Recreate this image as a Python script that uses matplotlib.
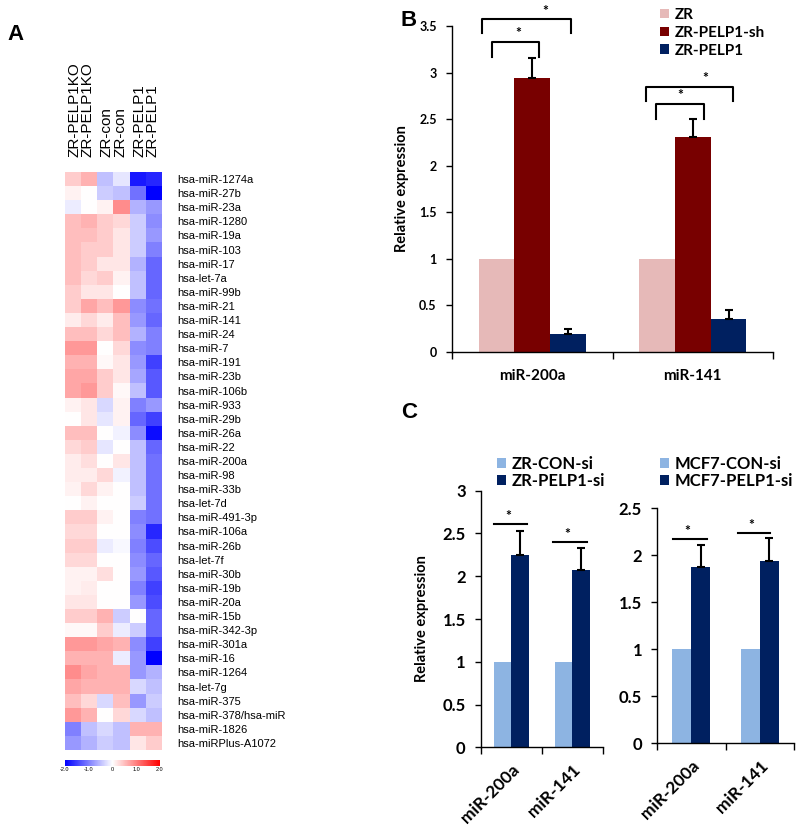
import numpy as np
import matplotlib
matplotlib.use('Agg')
import matplotlib.pyplot as plt
from matplotlib.colors import LinearSegmentedColormap

plt.rcParams['font.family'] = ['Liberation Sans', 'DejaVu Sans']
BOLD_FONT = ['Lato', 'DejaVu Sans']

# ---- panel A: heatmap data ----
groups = ['ZR-PELP1KO', 'ZR-con', 'ZR-PELP1']
mirnas = ['hsa-miR-1274a', 'hsa-miR-27b', 'hsa-miR-23a', 'hsa-miR-1280', 'hsa-miR-19a',
          'hsa-miR-103', 'hsa-miR-17', 'hsa-let-7a', 'hsa-miR-99b', 'hsa-miR-21',
          'hsa-miR-141', 'hsa-miR-24', 'hsa-miR-7', 'hsa-miR-191', 'hsa-miR-23b',
          'hsa-miR-106b', 'hsa-miR-933', 'hsa-miR-29b', 'hsa-miR-26a', 'hsa-miR-22',
          'hsa-miR-200a', 'hsa-miR-98', 'hsa-miR-33b', 'hsa-let-7d', 'hsa-miR-491-3p',
          'hsa-miR-106a', 'hsa-miR-26b', 'hsa-let-7f', 'hsa-miR-30b', 'hsa-miR-19b',
          'hsa-miR-20a', 'hsa-miR-15b', 'hsa-miR-342-3p', 'hsa-miR-301a', 'hsa-miR-16',
          'hsa-miR-1264', 'hsa-let-7g', 'hsa-miR-375', 'hsa-miR-378/hsa-miR', 'hsa-miR-1826',
          'hsa-miRPlus-A1072']
heat = np.array([
    [0.4, 0.6, -0.5, -0.2, -1.8, -1.7],
    [0.1, 0.0, -0.4, -0.5, -1.1, -2.0],
    [-0.15, 0.0, 0.1, 0.9, -0.6, -0.8],
    [0.5, 0.6, 0.4, 0.3, -0.4, -0.9],
    [0.5, 0.5, 0.4, 0.2, -0.4, -0.8],
    [0.5, 0.4, 0.4, 0.2, -0.4, -1.0],
    [0.5, 0.4, 0.2, 0.2, -0.6, -1.2],
    [0.5, 0.3, 0.4, 0.1, -0.5, -1.2],
    [0.4, 0.2, 0.2, 0.0, -0.5, -1.2],
    [0.4, 0.7, 0.5, 0.8, -0.9, -1.1],
    [0.15, 0.3, 0.15, 0.5, -0.8, -1.2],
    [0.5, 0.5, 0.3, 0.5, -0.6, -1.0],
    [0.8, 0.8, 0.0, 0.3, -0.9, -1.0],
    [0.6, 0.6, 0.05, 0.2, -0.8, -1.5],
    [0.7, 0.7, 0.4, 0.2, -0.7, -1.3],
    [0.7, 0.8, 0.4, 0.05, -0.5, -1.3],
    [0.1, 0.2, -0.3, 0.1, -1.0, -0.8],
    [0.0, 0.2, -0.2, 0.1, -1.2, -1.5],
    [0.5, 0.5, 0.0, -0.1, -0.9, -1.9],
    [0.3, 0.4, -0.2, 0.0, -0.5, -1.2],
    [0.15, 0.25, 0.0, 0.2, -0.5, -1.1],
    [0.15, 0.15, 0.3, -0.1, -0.5, -1.1],
    [0.1, 0.3, 0.1, 0.0, -0.5, -1.1],
    [0.0, 0.1, 0.0, 0.0, -0.4, -1.1],
    [0.4, 0.4, 0.1, 0.0, -1.0, -1.1],
    [0.3, 0.3, 0.0, 0.0, -0.9, -1.7],
    [0.4, 0.4, -0.15, -0.05, -1.0, -1.4],
    [0.3, 0.3, 0.0, 0.0, -0.9, -1.2],
    [0.1, 0.1, 0.25, 0.0, -0.8, -1.3],
    [0.1, 0.15, 0.0, 0.0, -1.0, -1.5],
    [0.2, 0.2, 0.0, 0.0, -0.8, -1.4],
    [0.4, 0.4, 0.6, -0.4, 0.0, -1.2],
    [0.05, 0.05, 0.4, -0.15, -0.4, -1.2],
    [0.8, 0.8, 0.7, 0.6, -0.9, -1.5],
    [0.6, 0.6, 0.6, -0.15, -0.8, -2.0],
    [0.9, 0.7, 0.6, 0.6, -0.8, -0.6],
    [0.7, 0.6, 0.6, 0.6, -0.3, -0.5],
    [0.5, 0.3, -0.3, 0.5, -0.8, -0.4],
    [0.8, 0.6, 0.0, 0.3, -0.3, -0.5],
    [-1.0, -0.5, -0.3, -0.5, 0.6, 0.6],
    [-0.8, -0.6, -0.4, -0.5, 0.2, 0.4],
])
cbar_ticks = [-2, -1, 0, 1, 2]
cbar_labels = ['-2.0', '-1.0', '0', '1.0', '2.0']

# ---- panel B data ----
b_categories = ['miR-200a', 'miR-141']
b_series = ['ZR', 'ZR-PELP1-sh', 'ZR-PELP1']
b_values = [[1.0, 1.0], [2.94, 2.31], [0.19, 0.35]]
b_errors = [[0, 0], [0.22, 0.19], [0.055, 0.10]]
b_colors = ['#E6B9B8', '#780000', '#002060']
# brackets: (x0, x1, y_bottom, y_top, star_x)
b_brackets = [(0.19, 0.74, 3.42, 3.57, 0.58), (0.25, 0.54, 3.17, 3.33, 0.41),
              (1.21, 1.75, 2.69, 2.85, 1.58), (1.27, 1.57, 2.50, 2.66, 1.42)]

# ---- panel C data ----
c_categories = ['miR-200a', 'miR-141']
cl_series = ['ZR-CON-si', 'ZR-PELP1-si']
cl_values = [[1.0, 1.0], [2.25, 2.07]]
cl_errors = [[0, 0], [0.28, 0.26]]
cl_lines = [(0.21, 0.76, 2.61), (1.18, 1.73, 2.40)]
cr_series = ['MCF7-CON-si', 'MCF7-PELP1-si']
cr_values = [[1.0, 1.0], [1.88, 1.94]]
cr_errors = [[0, 0], [0.23, 0.24]]
cr_lines = [(0.23, 0.73, 2.17), (1.18, 1.65, 2.24)]
c_colors = ['#8DB4E2', '#002060']

W, H = 800, 834
fig = plt.figure(figsize=(8, 8.34), dpi=100)


def px_axes(x0, y0, x1, y1):
    return fig.add_axes([x0 / W, 1 - y1 / H, (x1 - x0) / W, (y1 - y0) / H])


# ---- heatmap ----
cmap = LinearSegmentedColormap.from_list('bwr_custom', ['#0000FF', '#FFFFFF', '#FF0000'])
axh = px_axes(65, 172, 162, 750)
im = axh.imshow(heat, cmap=cmap, vmin=-2, vmax=2, aspect='auto', interpolation='nearest')
for s in axh.spines.values():
    s.set_visible(False)
axh.yaxis.tick_right()
axh.set_yticks(range(len(mirnas)), labels=mirnas, fontsize=8)
axh.tick_params(axis='y', length=0, pad=11)
axh.xaxis.tick_top()
axh.set_xticks([0.5, 2.5, 4.5], labels=[f'{g}\n{g}' for g in groups],
               rotation=90, fontsize=11, linespacing=0.92)
axh.tick_params(axis='x', length=0, pad=11)

cax = px_axes(65, 760, 160, 766)
cb = fig.colorbar(im, cax=cax, orientation='horizontal', ticks=cbar_ticks)
cb.set_ticklabels(cbar_labels, fontsize=4)
cb.outline.set_visible(False)
cax.tick_params(length=0, pad=1)


def bar_panel(ax, cats, series, values, errors, colors, width, ymax, ystep, tsize):
    x = np.arange(len(cats)) + 0.5
    n = len(series)
    offsets = (np.arange(n) - (n - 1) / 2) * width
    for name, vals, errs, col, off in zip(series, values, errors, colors, offsets):
        ax.bar(x + off, vals, width, color=col, label=name, zorder=2)
        if any(errs):
            ax.errorbar(x + off, vals, yerr=[np.zeros(len(errs)), errs], fmt='none',
                        ecolor='black', elinewidth=1.5, capsize=3, capthick=1.5, zorder=3)
    ax.set_xlim(0, len(cats))
    ax.set_ylim(0, ymax)
    ticks = np.arange(0, ymax + 1e-9, ystep)
    ax.set_yticks(ticks, labels=[f'{t:g}' for t in ticks], fontsize=tsize,
                  fontweight='bold', family=BOLD_FONT)
    ax.set_xticks(np.arange(len(cats) + 1), labels=[''] * (len(cats) + 1))
    ax.set_xticks(x, minor=True)
    ax.tick_params(axis='x', which='major', length=5, width=1)
    ax.tick_params(axis='x', which='minor', length=0)
    ax.tick_params(axis='y', length=4, width=1, pad=7)
    for side in ['top', 'right']:
        ax.spines[side].set_visible(False)
    for side in ['left', 'bottom']:
        ax.spines[side].set_linewidth(1)
    ax.set_ylabel('Relative expression', fontsize=10.5, fontweight='bold', family=BOLD_FONT)


# ---- panel B ----
axb = px_axes(452, 26, 773, 352)
bar_panel(axb, b_categories, b_series, b_values, b_errors, b_colors, 0.223, 3.5, 0.5, 9)
axb.set_xticks(np.arange(len(b_categories)) + 0.5, labels=b_categories, minor=True,
               fontsize=11, fontweight='bold', family=BOLD_FONT)
axb.tick_params(axis='x', which='minor', pad=12)
axb.yaxis.set_label_coords(-0.135, 0.5)
for x0, x1, yb, yt, sx in b_brackets:
    axb.plot([x0, x0, x1, x1], [yb, yt, yt, yb], color='black', lw=1.5, clip_on=False)
    axb.text(sx, yt + 0.03, '*', ha='center', va='bottom', fontsize=10,
             fontweight='bold', family=BOLD_FONT)
axb.legend(loc='upper left', bbox_to_anchor=(660 / W, 1 - 8 / H), bbox_transform=fig.transFigure,
           frameon=False, prop={'family': BOLD_FONT, 'weight': 'bold', 'size': 11},
           handlelength=0.6, handleheight=0.6, handletextpad=0.35, labelspacing=0.25,
           borderpad=0, borderaxespad=0)


# ---- panel C ----
def c_panel(ax, series, values, errors, lines, width, ymax, legend_x):
    bar_panel(ax, c_categories, series, values, errors, c_colors, width, ymax, 0.5, 12)
    ax.set_xticks(np.arange(len(c_categories)) + 0.5, labels=c_categories, minor=True,
                  fontsize=12.5, fontweight='bold', family=BOLD_FONT, rotation=45,
                  ha='right', va='top', rotation_mode='anchor')
    ax.tick_params(axis='x', which='minor', pad=10)
    for x0, x1, y in lines:
        ax.plot([x0, x1], [y, y], color='black', lw=1.5, clip_on=False)
        ax.text((x0 + x1) / 2 - 0.04, y + 0.02, '*', ha='center', va='bottom', fontsize=10,
                fontweight='bold', family=BOLD_FONT)
    ax.legend(loc='upper left', bbox_to_anchor=(legend_x / W, 1 - 456 / H),
              bbox_transform=fig.transFigure, frameon=False,
              prop={'family': BOLD_FONT, 'weight': 'bold', 'size': 12},
              handlelength=0.55, handleheight=0.55, handletextpad=0.35, labelspacing=0.08,
              borderpad=0, borderaxespad=0)


axcl = px_axes(481, 490.7, 603, 747.3)
c_panel(axcl, cl_series, cl_values, cl_errors, cl_lines, 0.284, 3, 497)
axcl.yaxis.set_label_coords(-0.43, 0.5)
axcr = px_axes(657.3, 508.3, 794, 743.3)
c_panel(axcr, cr_series, cr_values, cr_errors, cr_lines, 0.278, 2.5, 660)
axcr.set_ylabel('')

# panel letters
for letter, (lx, ly) in zip('ABC', [(16, 35), (409, 20), (409, 412)]):
    fig.text(lx / W, 1 - ly / H, letter, fontsize=16, fontweight='bold',
             ha='center', va='center', family=['Liberation Sans', 'DejaVu Sans'])

fig.savefig('out.png', dpi=100)
